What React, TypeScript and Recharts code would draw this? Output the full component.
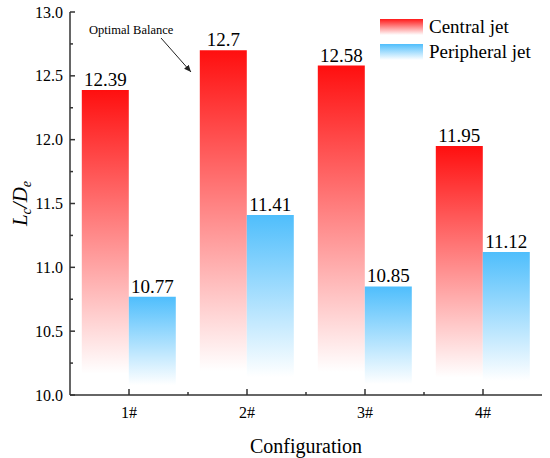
import React from 'react';
import { BarChart, Bar, XAxis, YAxis, LabelList, Label, Customized } from 'recharts';

const categories = ['1#', '2#', '3#', '4#'];
const centralJet = [12.39, 12.7, 12.58, 11.95];
const peripheralJet = [10.77, 11.41, 10.85, 11.12];
const yTicks = [10, 10.25, 10.5, 10.75, 11, 11.25, 11.5, 11.75, 12, 12.25, 12.5, 12.75, 13];
const seriesNames = ['Central jet', 'Peripheral jet'];
const annotationText = 'Optimal Balance';

const data = categories.map((c, i) => ({ name: c, central: centralJet[i], peripheral: peripheralJet[i] }));

const FONT = 'Liberation Serif';
const AXIS = '#333333';

const YTick = (props: any) => {
  const { x, y, payload } = props;
  const v = payload.value as number;
  const major = Math.abs(v * 2 - Math.round(v * 2)) < 1e-6;
  return (
    <g>
      <line x1={x} x2={x + (major ? 5 : 3)} y1={y} y2={y} stroke={AXIS} strokeWidth={1.5} />
      {major && (
        <text x={x - 7} y={y + 5.5} textAnchor="end" fontFamily={FONT} fontSize={16}>
          {v.toFixed(1)}
        </text>
      )}
    </g>
  );
};

const XTick = (props: any) => {
  const { x, y, payload, index, width, visibleTicksCount } = props;
  const half = payload.offset != null && payload.offset > 0 ? payload.offset : width / visibleTicksCount / 2;
  return (
    <g>
      <line x1={x} x2={x} y1={y} y2={y - 6} stroke={AXIS} strokeWidth={1.5} />
      {index < categories.length - 1 && (
        <line x1={x + half} x2={x + half} y1={y} y2={y - 3} stroke={AXIS} strokeWidth={1.5} />
      )}
      <text x={x} y={y + 23} textAnchor="middle" fontFamily={FONT} fontSize={16}>
        {payload.value}
      </text>
    </g>
  );
};

const BarValue = (props: any) => {
  const { x, y, width, value } = props;
  return (
    <text x={x + width / 2} y={y - 4} textAnchor="middle" fontFamily={FONT} fontSize={19}>
      {value}
    </text>
  );
};

const Overlay = () => (
  <g>
    <defs>
      <marker id="arrowHead" markerWidth="8" markerHeight="8" refX="7" refY="4" orient="auto" markerUnits="userSpaceOnUse">
        <path d="M0,1 L7,4 L0,7 Z" fill="#222" />
      </marker>
    </defs>
    <text x={89} y={34} fontFamily={FONT} fontSize={12.5}>{annotationText}</text>
    <line x1={161} y1={38} x2={191} y2={72} stroke="#222" strokeWidth={1} markerEnd="url(#arrowHead)" />
    <rect x={380} y={19} width={43} height={16} fill="url(#legRed)" />
    <rect x={380} y={44} width={43} height={16} fill="url(#legBlue)" />
    <text x={429} y={33} fontFamily={FONT} fontSize={19}>{seriesNames[0]}</text>
    <text x={429} y={58} fontFamily={FONT} fontSize={19}>{seriesNames[1]}</text>
  </g>
);

export default function App() {
  return (
    <div style={{ position: 'absolute', left: 0, top: 0, width: 550, height: 458, background: '#fff' }}>
      <BarChart
        width={550}
        height={458}
        data={data}
        margin={{ top: 12, right: 8, bottom: 0, left: 0 }}
        barCategoryGap="10%"
        barGap={0}
      >
        <defs>
          <linearGradient id="gradRed" x1="0" y1="0" x2="0" y2="1">
            <stop offset="0" stopColor="#ff0f0f" />
            <stop offset="0.93" stopColor="#ffffff" />
          </linearGradient>
          <linearGradient id="gradBlue" x1="0" y1="0" x2="0" y2="1">
            <stop offset="0" stopColor="#4fbefc" />
            <stop offset="0.9" stopColor="#ffffff" />
          </linearGradient>
          <linearGradient id="legRed" x1="0" y1="0" x2="0" y2="1">
            <stop offset="0" stopColor="#ff1a1a" />
            <stop offset="1" stopColor="#ffffff" />
          </linearGradient>
          <linearGradient id="legBlue" x1="0" y1="0" x2="0" y2="1">
            <stop offset="0" stopColor="#4fbefc" />
            <stop offset="1" stopColor="#ffffff" />
          </linearGradient>
        </defs>
        <XAxis
          dataKey="name"
          height={63}
          tickSize={0}
          tickMargin={0}
          tickLine={false}
          axisLine={{ stroke: AXIS, strokeWidth: 1.5 }}
          tick={<XTick />}
          interval={0}
        >
          <Label
            content={(p: any) => {
              const vb = p.viewBox || {};
              return (
                <text x={vb.x + vb.width / 2} y={vb.y + 58} textAnchor="middle" fontFamily={FONT} fontSize={20}>
                  Configuration
                </text>
              );
            }}
          />
        </XAxis>
        <XAxis xAxisId="top" dataKey="name" orientation="top" height={0} tick={false} tickLine={false} axisLine={{ stroke: AXIS, strokeWidth: 1.5 }} />
        <YAxis
          width={70}
          type="number"
          domain={[10, 13]}
          ticks={yTicks}
          interval={0}
          allowDataOverflow
          tickSize={0}
          tickMargin={0}
          tickLine={false}
          axisLine={{ stroke: AXIS, strokeWidth: 1.5 }}
          tick={<YTick />}
        >
          <Label
            content={(p: any) => {
              const vb = p.viewBox || {};
              const cx = 20;
              const cy = vb.y + vb.height / 2;
              return (
                <text
                  x={cx}
                  y={cy}
                  dy="0.35em"
                  textAnchor="middle"
                  transform={`rotate(-90, ${cx}, ${cy})`}
                  fontFamily={FONT}
                  fontSize={21}
                  fontStyle="italic"
                >
                  <tspan>L</tspan>
                  <tspan fontSize={14} dy={4}>c</tspan>
                  <tspan dy={-4}>/D</tspan>
                  <tspan fontSize={14} dy={4}>e</tspan>
                </text>
              );
            }}
          />
        </YAxis>
        <YAxis yAxisId="right" orientation="right" width={0} type="number" domain={[10, 13]} tick={false} tickLine={false} axisLine={{ stroke: AXIS, strokeWidth: 1.5 }} />
        <Bar dataKey="central" name={seriesNames[0]} fill="url(#gradRed)" isAnimationActive={false}>
          <LabelList dataKey="central" content={<BarValue />} />
        </Bar>
        <Bar dataKey="peripheral" name={seriesNames[1]} fill="url(#gradBlue)" isAnimationActive={false}>
          <LabelList dataKey="peripheral" content={<BarValue />} />
        </Bar>
        <Customized component={Overlay} />
      </BarChart>
    </div>
  );
}
